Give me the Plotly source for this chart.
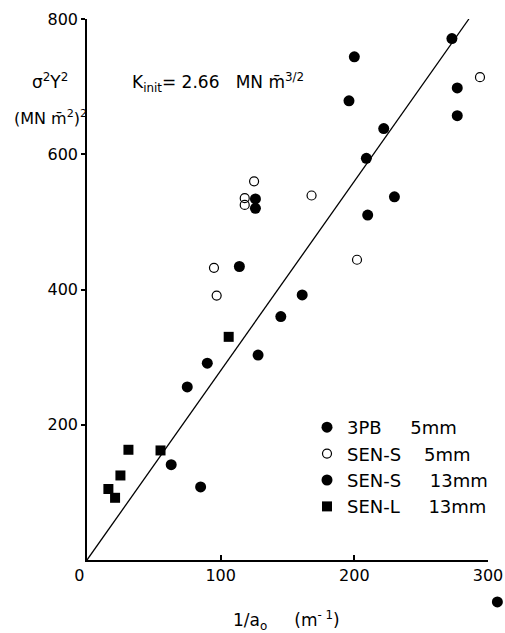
import plotly.graph_objects as go

# Data
pb3_x = [273, 200, 277, 196, 277, 222, 209, 230, 210, 161]
pb3_y = [771, 744, 698, 679, 657, 638, 594, 537, 510, 392]

sens5_x = [294, 125, 168, 118, 118, 202, 95, 97]
sens5_y = [714, 560, 539, 535, 525, 444, 432, 391]

sens13_x = [126, 126, 114, 145, 128, 90, 75, 63, 85]
sens13_y = [534, 520, 434, 360, 303, 291, 256, 141, 108]

# stray filled point printed outside the frame (below the "300" label)
stray_x = [307]
stray_y = [-62]

senl_x = [106, 31, 55, 25, 16, 21]
senl_y = [330, 163, 162, 125, 105, 92]

fit_x = [0, 285.7]
fit_y = [0, 800]

NB = "\u00a0"
x_ticks = [0, 100, 200, 300]
x_ticktext = ["0" + NB * 3, "100", "200", "300"]
y_ticks = [200, 400, 600, 800]

FONT = "DejaVu Sans"

W, H = 505, 633
# plot frame in pixels
X0, X1 = 87, 488
Y0, Y1 = 560, 19   # pixel rows of y=0 and y=800
XR = [0, 300]
YR = [0, 800]


def px(xp):
    return xp / W


def py(yp):
    return 1 - yp / H


# full-page axes with the same scale as the main axes (for the stray point)
sx = (XR[1] - XR[0]) / (X1 - X0)
sy = (YR[1] - YR[0]) / (Y0 - Y1)
x2_range = [XR[0] - X0 * sx, XR[1] + (W - X1) * sx]
y2_range = [YR[0] - (H - Y0) * sy, YR[1] + Y1 * sy]

fig = go.Figure()
fig.add_trace(go.Scatter(x=fit_x, y=fit_y, mode="lines",
                         line=dict(color="black", width=1.3),
                         showlegend=False, hoverinfo="skip"))
fig.add_trace(go.Scatter(x=pb3_x, y=pb3_y, mode="markers",
                         name="3PB" + NB * 5 + "5mm", legendgroup="a",
                         marker=dict(symbol="circle", size=11, color="black"),
                         cliponaxis=False))
fig.add_trace(go.Scatter(x=sens5_x, y=sens5_y, mode="markers",
                         name="SEN-S" + NB * 4 + "5mm", legendgroup="b",
                         marker=dict(symbol="circle-open", size=9, color="black",
                                     line=dict(width=1.2, color="black")),
                         cliponaxis=False))
fig.add_trace(go.Scatter(x=sens13_x, y=sens13_y, mode="markers",
                         name="SEN-S" + NB * 5 + "13mm", legendgroup="c",
                         marker=dict(symbol="circle", size=11, color="black"),
                         cliponaxis=False))
fig.add_trace(go.Scatter(x=senl_x, y=senl_y, mode="markers",
                         name="SEN-L" + NB * 5 + "13mm", legendgroup="d",
                         marker=dict(symbol="square", size=10, color="black"),
                         cliponaxis=False))
fig.add_trace(go.Scatter(x=stray_x, y=stray_y, mode="markers",
                         xaxis="x2", yaxis="y2", showlegend=False,
                         legendgroup="c",
                         marker=dict(symbol="circle", size=11, color="black"),
                         cliponaxis=False))

fig.update_layout(
    width=W, height=H,
    margin=dict(l=0, r=0, t=0, b=0, autoexpand=False),
    paper_bgcolor="white", plot_bgcolor="rgba(0,0,0,0)",
    font=dict(family=FONT, size=16, color="black"),
    showlegend=True,
    legend=dict(x=px(307), y=py(409), xanchor="left", yanchor="top",
                bgcolor="rgba(0,0,0,0)", tracegroupgap=0,
                font=dict(family=FONT, size=18, color="black")),
    xaxis=dict(domain=[X0 / W, X1 / W], range=XR, tickvals=x_ticks,
               ticktext=x_ticktext,
               ticks="inside", ticklen=5, anchor="y", automargin=False,
               tickwidth=1.5, tickcolor="black", showline=True, linecolor="black",
               linewidth=1.5, showgrid=False, zeroline=False,
               tickfont=dict(family=FONT, size=16, color="black")),
    yaxis=dict(domain=[1 - Y0 / H, 1 - Y1 / H], range=YR, tickvals=y_ticks,
               ticks="outside", ticklen=4, anchor="x", automargin=False,
               tickwidth=1.5, tickcolor="black", showline=True, linecolor="black",
               linewidth=1.5, showgrid=False, zeroline=False,
               tickfont=dict(family=FONT, size=16, color="black")),
    xaxis2=dict(domain=[0, 1], range=x2_range, visible=False, anchor="y2",
                showgrid=False, zeroline=False, automargin=False),
    yaxis2=dict(domain=[0, 1], range=y2_range, visible=False, anchor="x2",
                showgrid=False, zeroline=False, automargin=False),
    annotations=[
        dict(x=px(50), y=py(81), xref="paper", yref="paper", showarrow=False,
             xanchor="center", yanchor="middle",
             text="σ<sup>2</sup>Y<sup>2</sup>", font=dict(family=FONT, size=17)),
        dict(x=px(50), y=py(118), xref="paper", yref="paper", showarrow=False,
             xanchor="center", yanchor="middle",
             text="(MN m\u0304<sup>2</sup>)<sup>2</sup>", font=dict(family=FONT, size=16)),
        dict(x=px(130), y=py(83), xref="paper", yref="paper", showarrow=False,
             xanchor="left", yanchor="middle",
             text="K<sub>init</sub>= 2.66" + NB * 3 + "MN m\u0304<sup>3/2</sup>",
             font=dict(family=FONT, size=17)),
        dict(x=px(286), y=py(620), xref="paper", yref="paper", showarrow=False,
             xanchor="center", yanchor="middle",
             text="1/a<sub>o</sub>" + NB * 5 + "(m<sup>- 1</sup>)",
             font=dict(family=FONT, size=17)),
    ],
)

fig.write_html("out.html")
